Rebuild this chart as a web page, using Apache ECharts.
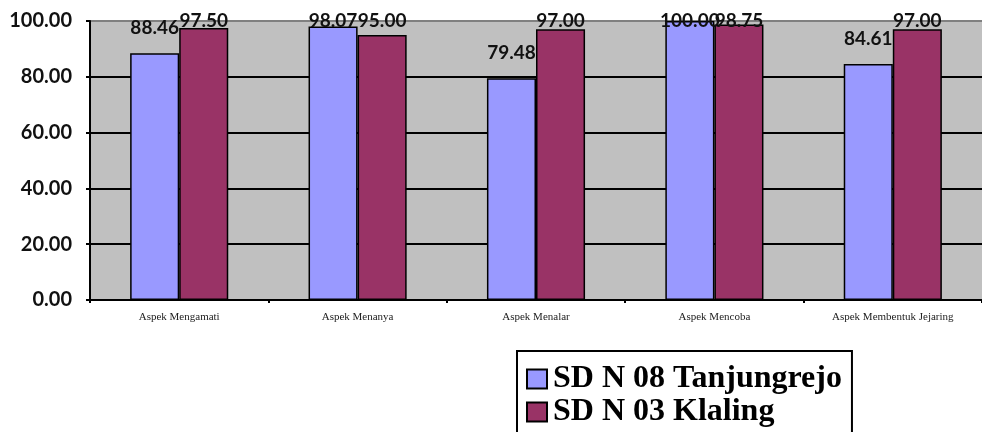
<!DOCTYPE html>
<html>
<head>
<meta charset="utf-8">
<script src="https://cdn.jsdelivr.net/npm/echarts@6/dist/echarts.min.js"></script>
<style>
    html, body { margin: 0; padding: 0; background: #ffffff; }
    #chart { width: 982px; height: 432px; }
</style>
</head>
<body>
<div id="chart"></div>
<script>
const CATEGORIES = ['Aspek Mengamati', 'Aspek Menanya', 'Aspek Menalar', 'Aspek Mencoba', 'Aspek Membentuk Jejaring'];
const TANJUNGREJO = [88.46, 98.07, 79.48, 100.00, 84.61];
const KLALING = [97.50, 95.00, 97.00, 98.75, 97.00];
const Y_TICKS = [0, 20, 40, 60, 80, 100];

const LABEL_FONT = 'Lato, "DejaVu Sans", sans-serif';
const SERIF_FONT = '"Liberation Serif", "DejaVu Serif", serif';

let chart = echarts.init(document.getElementById('chart'));

/* Excel keeps labels inside the chart area: clamp them near the top. */
function clampLabel(params) {
    return {
        y: Math.max(params.rect.y - 16, 30),
        align: 'center',
        verticalAlign: 'bottom'
    };
}

function barSeries(name, data, color) {
    return {
        name: name,
        type: 'bar',
        data: data,
        barGap: '0%',
        barCategoryGap: '45%',
        itemStyle: {
            color: color,
            borderColor: '#000000',
            borderWidth: 1.5
        },
        label: {
            show: true,
            position: 'top',
            distance: 16,
            color: '#111111',
            fontFamily: LABEL_FONT,
            fontWeight: 'bold',
            fontSize: 19,
            formatter: function (p) { return p.value.toFixed(2); }
        },
        labelLayout: clampLabel
    };
}

let option = {
    animation: false,
    backgroundColor: '#ffffff',
    grid: {
        left: 90,
        right: 0,
        top: 21,
        bottom: 132,
        show: true,
        backgroundColor: '#c0c0c0',
        borderWidth: 0
    },
    legend: {
        orient: 'vertical',
        left: 517,
        top: 351,
        height: 120,
        padding: [12, 10, 30, 9],
        itemGap: 1,
        itemWidth: 20,
        itemHeight: 19,
        borderColor: '#000000',
        borderWidth: 2,
        icon: 'rect',
        itemStyle: { borderColor: '#000000', borderWidth: 2 },
        textStyle: {
            fontFamily: SERIF_FONT,
            fontWeight: 'bold',
            fontSize: 32,
            color: '#000000',
            padding: [0, 0, 0, 1]
        },
        data: ['SD N 08 Tanjungrejo', 'SD N 03 Klaling']
    },
    xAxis: {
        type: 'category',
        data: CATEGORIES,
        axisLine: { lineStyle: { color: '#000000', width: 2 } },
        axisTick: { show: true, length: 3, lineStyle: { color: '#000000', width: 2 } },
        axisLabel: {
            color: '#222222',
            fontFamily: SERIF_FONT,
            fontSize: 11,
            margin: 12
        }
    },
    yAxis: {
        type: 'value',
        min: Y_TICKS[0],
        max: Y_TICKS[Y_TICKS.length - 1],
        interval: Y_TICKS[1] - Y_TICKS[0],
        axisLine: { show: true, lineStyle: { color: '#000000', width: 2 } },
        axisTick: { show: true, inside: false, length: 4, lineStyle: { color: '#000000', width: 2 } },
        splitLine: {
            lineStyle: {
                color: ['#000000', '#000000', '#000000', '#000000', '#000000', '#808080'],
                width: 2
            }
        },
        axisLabel: {
            color: '#111111',
            fontFamily: LABEL_FONT,
            fontWeight: 'bold',
            fontSize: 20,
            margin: 18,
            formatter: function (v) { return v.toFixed(2); }
        }
    },
    series: [
        barSeries('SD N 08 Tanjungrejo', TANJUNGREJO, '#9999ff'),
        barSeries('SD N 03 Klaling', KLALING, '#993366')
    ]
};
chart.setOption(option);

window.addEventListener('resize', function () {
    chart?.resize();
});
</script>
</body>
</html>
